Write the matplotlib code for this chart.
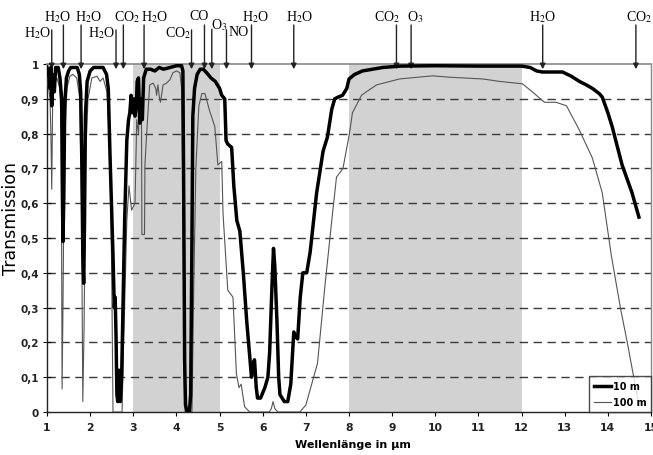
import matplotlib
matplotlib.use("Agg")
import matplotlib.pyplot as plt
from matplotlib.lines import Line2D

plt.rcParams['mathtext.fontset'] = 'stix'

# ---------------- data ----------------
x_10m = [1.00, 1.04, 1.07, 1.09, 1.11, 1.13, 1.17, 1.20, 1.26, 1.30, 1.34, 1.36, 1.37, 1.39, 1.41,
         1.45, 1.50, 1.55, 1.70, 1.75, 1.78, 1.81, 1.83, 1.85, 1.87, 1.89, 1.93, 2.00, 2.08, 2.30,
         2.38, 2.42, 2.46, 2.50, 2.53, 2.56, 2.58, 2.60, 2.62, 2.64, 2.67, 2.70, 2.73, 2.76, 2.80,
         2.85, 2.89, 2.92, 2.95, 2.98, 3.01, 3.04, 3.07, 3.09, 3.12, 3.15, 3.18, 3.21, 3.24, 3.30,
         3.40, 3.50, 3.60, 3.70, 3.85, 4.00, 4.12, 4.15, 4.17, 4.19, 4.21, 4.25, 4.30, 4.33, 4.36,
         4.38, 4.42, 4.48, 4.55, 4.62, 4.70, 4.80, 4.90, 5.00, 5.05, 5.12, 5.15, 5.19, 5.28, 5.33,
         5.40, 5.47, 5.55, 5.63, 5.70, 5.74, 5.78, 5.81, 5.85, 5.88, 5.95, 6.05, 6.12, 6.16, 6.22,
         6.25, 6.28, 6.33, 6.37, 6.40, 6.50, 6.58, 6.65, 6.72, 6.75, 6.81, 6.87, 6.93, 7.02, 7.10,
         7.25, 7.40, 7.50, 7.60, 7.67, 7.75, 7.85, 7.95, 8.00, 8.13, 8.31, 8.78, 9.20, 10.0, 11.0,
         12.0, 12.2, 12.35, 12.48, 12.95, 13.15, 13.34, 13.50, 13.64, 13.80, 13.87, 14.0, 14.1,
         14.33, 14.56, 14.72]
t_10m = [0.99, 0.97, 0.93, 0.99, 0.88, 0.97, 0.92, 0.99, 0.99, 0.96, 0.90, 0.60, 0.49, 0.62, 0.88,
         0.96, 0.98, 0.99, 0.99, 0.97, 0.92, 0.70, 0.45, 0.37, 0.55, 0.85, 0.95, 0.98, 0.99, 0.99,
         0.97, 0.93, 0.74, 0.58, 0.45, 0.30, 0.33, 0.22, 0.05, 0.03, 0.12, 0.03, 0.10, 0.30, 0.55,
         0.78, 0.84, 0.86, 0.91, 0.86, 0.90, 0.85, 0.88, 0.95, 0.96, 0.83, 0.90, 0.84, 0.96, 0.985,
         0.985, 0.98, 0.99, 0.985, 0.99, 0.995, 0.995, 0.98, 0.60, 0.15, 0.02, 0.0, 0.0, 0.05, 0.50,
         0.85, 0.93, 0.97, 0.985, 0.985, 0.975, 0.96, 0.95, 0.93, 0.91, 0.90, 0.78, 0.77, 0.76, 0.65,
         0.55, 0.52, 0.40, 0.26, 0.16, 0.10, 0.14, 0.15, 0.07, 0.04, 0.04, 0.07, 0.10, 0.17, 0.38,
         0.47, 0.42, 0.26, 0.10, 0.05, 0.03, 0.03, 0.08, 0.23, 0.22, 0.21, 0.33, 0.40, 0.40, 0.46,
         0.63, 0.75, 0.79, 0.87, 0.90, 0.905, 0.91, 0.93, 0.957, 0.97, 0.98, 0.99, 0.994, 0.995, 0.994,
         0.994, 0.99, 0.98, 0.977, 0.977, 0.965, 0.95, 0.94, 0.93, 0.915, 0.905, 0.86, 0.82,
         0.71, 0.63, 0.56]

x_100m = [1.00, 1.04, 1.07, 1.09, 1.11, 1.13, 1.17, 1.23, 1.30, 1.33, 1.35, 1.37, 1.40, 1.46, 1.53,
          1.60, 1.69, 1.76, 1.80, 1.83, 1.86, 1.90, 1.95, 2.04, 2.16, 2.23, 2.30, 2.39, 2.46, 2.50,
          2.53, 2.74, 2.77, 2.82, 2.85, 2.90, 2.96, 3.04, 3.08, 3.12, 3.15, 3.19, 3.20, 3.26, 3.27,
          3.31, 3.38, 3.46, 3.52, 3.54, 3.57, 3.61, 3.63, 3.69, 3.77, 3.85, 3.92, 4.00, 4.08, 4.12,
          4.15, 4.18, 4.20, 4.36, 4.40, 4.45, 4.52, 4.59, 4.66, 4.77, 4.89, 4.96, 5.05, 5.08, 5.19,
          5.31, 5.39, 5.45, 5.50, 5.58, 5.70, 6.15, 6.20, 6.24, 6.28, 6.35, 6.86, 7.00, 7.09, 7.27,
          7.44, 7.60, 7.71, 7.86, 8.01, 8.08, 8.29, 8.40, 8.64, 9.17, 9.94, 10.33, 11.10, 11.49,
          12.02, 12.25, 12.53, 12.80, 13.04, 13.34, 13.64, 13.87, 14.08, 14.29, 14.45, 14.60, 14.72]
t_100m = [0.97, 0.93, 0.90, 0.80, 0.64, 0.88, 0.94, 0.96, 0.93, 0.80, 0.066, 0.30, 0.74, 0.93, 0.965,
          0.97, 0.96, 0.90, 0.60, 0.03, 0.25, 0.74, 0.90, 0.96, 0.965, 0.95, 0.96, 0.92, 0.74, 0.40,
          0.0, 0.0, 0.17, 0.40, 0.55, 0.65, 0.58, 0.60, 0.84, 0.80, 0.89, 0.85, 0.51, 0.51, 0.71,
          0.80, 0.94, 0.945, 0.93, 0.91, 0.94, 0.90, 0.89, 0.94, 0.945, 0.955, 0.975, 0.98, 0.975, 0.93,
          0.60, 0.10, 0.0, 0.0, 0.35, 0.70, 0.88, 0.915, 0.915, 0.865, 0.82, 0.71, 0.72, 0.57, 0.35,
          0.33, 0.11, 0.07, 0.08, 0.015, 0.0, 0.0, 0.01, 0.03, 0.01, 0.0, 0.0, 0.02, 0.06, 0.14,
          0.36, 0.55, 0.675, 0.70, 0.80, 0.86, 0.91, 0.92, 0.94, 0.957, 0.966, 0.962, 0.957, 0.95,
          0.943, 0.92, 0.89, 0.89, 0.88, 0.81, 0.73, 0.63, 0.45, 0.30, 0.20, 0.10, 0.02]

shaded_bands = [(3, 5), (8, 12)]
x_ticks = list(range(1, 16))
y_ticks = [0, 0.1, 0.2, 0.3, 0.4, 0.5, 0.6, 0.7, 0.8, 0.9, 1]
y_tick_labels = ['0', '0,1', '0,2', '0,3', '0,4', '0,5', '0,6', '0,7', '0,8', '0,9', '1']

# molecule labels: (label, arrow wavelength, label x, label row)
mol_labels = ['H$_2$O', 'H$_2$O', 'H$_2$O', 'H$_2$O', 'CO$_2$', 'H$_2$O', 'CO$_2$', 'CO', 'O$_3$',
              'NO', 'H$_2$O', 'H$_2$O', 'CO$_2$', 'O$_3$', 'H$_2$O', 'CO$_2$']
mol_arrow_x = [1.11, 1.38, 1.79, 2.60, 2.77, 3.25, 4.35, 4.65, 4.82, 5.16, 5.74, 6.72,
               9.10, 9.44, 12.49, 14.65]
mol_text_x = [0.79, 1.25, 1.97, 2.27, 2.85, 3.50, 4.03, 4.52, 5.00, 5.44, 5.84, 6.86,
              8.89, 9.54, 12.48, 14.73]
mol_row = [2, 0, 0, 2, 0, 0, 2, 0, 1, 2, 0, 0, 0, 0, 0, 0]

# ---------------- figure ----------------
fig = plt.figure(figsize=(6.53, 4.56), dpi=100)
ax = fig.add_axes([47 / 653, 43 / 456, 604 / 653, 348 / 456])

for a, b in shaded_bands:
    ax.axvspan(a, b, color='#d2d2d2', lw=0, zorder=0)

for yv in y_ticks[1:-1]:
    ax.axhline(yv, color='#3a3a3a', lw=1.0, ls=(0, (6, 4)), zorder=1)

ax.plot(x_100m, t_100m, color='#555555', lw=0.8, zorder=3)
ax.plot(x_10m, t_10m, color='black', lw=2.5, zorder=4, solid_joinstyle='round')

ax.set_xlim(1, 15)
ax.set_ylim(0, 1)
ax.set_xticks(x_ticks)
ax.set_xticklabels([str(v) for v in x_ticks], fontsize=7.8, fontweight='bold', color='#222222')
ax.set_yticks(y_ticks)
ax.set_yticklabels(y_tick_labels, fontsize=7.5, fontweight='bold', color='#222222')
ax.tick_params(axis='x', direction='out', length=3, width=0.8, pad=4)
ax.tick_params(axis='y', direction='inout', length=6, width=0.8, pad=3)

for s in ['left', 'bottom']:
    ax.spines[s].set_color('#222222')
    ax.spines[s].set_linewidth(1.0)
ax.spines['top'].set_color('#888888')
ax.spines['top'].set_linewidth(1.2)
ax.spines['right'].set_color('#888888')
ax.spines['right'].set_linewidth(1.0)

ax.set_xlabel('Wellenlänge in µm', fontsize=8, fontweight='bold')
ax.xaxis.set_label_coords(0.507, -0.078)
ax.set_ylabel('Transmission', fontsize=12.5)
ax.yaxis.set_label_coords(-0.045, 0.56)

handles = [Line2D([], [], color='black', lw=2.5), Line2D([], [], color='#555555', lw=0.8)]
leg = ax.legend(handles, ['10 m', '100 m'], loc='lower right', borderaxespad=0,
                prop={'size': 7, 'weight': 'bold'}, frameon=True, fancybox=False,
                handlelength=1.7, handletextpad=0.2, borderpad=0.5, labelspacing=0.6)
leg.get_frame().set_edgecolor('#222222')
leg.get_frame().set_linewidth(1.0)
leg.set_zorder(6)

row_y = [1.138, 1.115, 1.092]
row_start = [1.112, 1.100, 1.098]
for lab, xa, xt, r in zip(mol_labels, mol_arrow_x, mol_text_x, mol_row):
    ax.annotate('', xy=(xa, 0.985), xytext=(xa, row_start[r]), xycoords='data',
                annotation_clip=False,
                arrowprops=dict(arrowstyle='-|>', color='#222222', lw=1.0,
                                mutation_scale=8, shrinkA=0, shrinkB=0))
    ax.text(xt, row_y[r], lab, ha='center', va='center', fontsize=10,
            family='Liberation Serif', clip_on=False)

fig.savefig('out.png', dpi=100)
